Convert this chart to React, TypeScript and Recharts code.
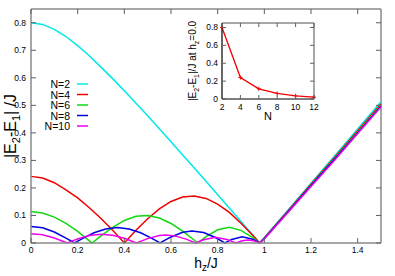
import React from 'react';
import { LineChart, Line, XAxis, YAxis, ReferenceLine, Legend } from 'recharts';

// main panel: gap vs h_z/J for each chain length
const hN2 = [0, 0.05, 0.1, 0.15, 0.2, 0.25, 0.3, 0.35, 0.4, 0.45, 0.5, 0.55, 0.6, 0.65, 0.7, 0.75, 0.8, 0.85, 0.9, 0.95, 0.98, 1.0, 1.1, 1.2, 1.3, 1.4, 1.5];
const gapN2 = [0.8, 0.794, 0.776, 0.75, 0.717, 0.68, 0.639, 0.597, 0.553, 0.508, 0.462, 0.415, 0.368, 0.32, 0.272, 0.224, 0.175, 0.127, 0.078, 0.029, 0, 0.02, 0.118, 0.217, 0.315, 0.414, 0.513];

const hN4 = [0, 0.05, 0.1, 0.15, 0.2, 0.25, 0.3, 0.35, 0.4, 0.45, 0.5, 0.55, 0.6, 0.65, 0.7, 0.75, 0.8, 0.85, 0.9, 0.95, 0.98, 1.0, 1.1, 1.2, 1.3, 1.4, 1.5];
const gapN4 = [0.242, 0.236, 0.219, 0.193, 0.164, 0.128, 0.089, 0.046, 0, 0.046, 0.088, 0.124, 0.151, 0.167, 0.171, 0.162, 0.141, 0.111, 0.072, 0.028, 0, 0.018, 0.115, 0.213, 0.31, 0.408, 0.505];

const hN6 = [0, 0.05, 0.1, 0.15, 0.2, 0.25, 0.262, 0.3, 0.35, 0.4, 0.45, 0.5, 0.55, 0.6, 0.65, 0.7, 0.714, 0.75, 0.8, 0.85, 0.9, 0.95, 0.98, 1.0, 1.1, 1.2, 1.3, 1.4, 1.5];
const gapN6 = [0.114, 0.109, 0.094, 0.071, 0.042, 0.008, 0, 0.026, 0.057, 0.082, 0.097, 0.1, 0.091, 0.071, 0.043, 0.01, 0, 0.023, 0.048, 0.057, 0.046, 0.02, 0, 0.017, 0.113, 0.21, 0.306, 0.403, 0.5];

const hN8 = [0, 0.05, 0.1, 0.15, 0.187, 0.22, 0.27, 0.32, 0.37, 0.42, 0.47, 0.52, 0.553, 0.6, 0.65, 0.69, 0.74, 0.79, 0.831, 0.86, 0.905, 0.95, 0.98, 1.0, 1.1, 1.2, 1.3, 1.4, 1.5];
const gapN8 = [0.06, 0.055, 0.04, 0.018, 0, 0.016, 0.037, 0.051, 0.056, 0.051, 0.037, 0.016, 0, 0.022, 0.039, 0.044, 0.038, 0.02, 0, 0.013, 0.023, 0.014, 0, 0.016, 0.112, 0.208, 0.303, 0.4, 0.497];

const hN10 = [0, 0.05, 0.1, 0.155, 0.2, 0.25, 0.3, 0.35, 0.4, 0.452, 0.5, 0.55, 0.58, 0.62, 0.665, 0.705, 0.74, 0.79, 0.84, 0.878, 0.905, 0.93, 0.955, 0.98, 1.0, 1.1, 1.2, 1.3, 1.4, 1.5];
const gapN10 = [0.034, 0.03, 0.018, 0, 0.015, 0.027, 0.032, 0.028, 0.017, 0, 0.016, 0.027, 0.029, 0.025, 0.014, 0, 0.012, 0.021, 0.013, 0, 0.008, 0.011, 0.008, 0, 0.015, 0.11, 0.205, 0.3, 0.398, 0.495];

const seriesNames = ['N=2', 'N=4', 'N=6', 'N=8', 'N=10'];
const seriesColors = ['#00e8e8', '#f00000', '#10d810', '#0000e6', '#f000f0'];

const xTicks = [0, 0.2, 0.4, 0.6, 0.8, 1, 1.2, 1.4];
const yTicks = [0, 0.1, 0.2, 0.3, 0.4, 0.5, 0.6, 0.7, 0.8];

// inset: gap at h_z = 0 vs N
const insetN = [2, 4, 6, 8, 10, 12];
const insetGap = [0.8, 0.24, 0.114, 0.062, 0.035, 0.02];
const insetYTicks = [0, 0.2, 0.4, 0.6, 0.8];

const toRows = (hs: number[], gs: number[]) => hs.map((h, i) => ({ h, gap: gs[i] }));
const mainSeries = [
  toRows(hN2, gapN2),
  toRows(hN4, gapN4),
  toRows(hN6, gapN6),
  toRows(hN8, gapN8),
  toRows(hN10, gapN10),
];
const insetData = insetN.map((n, i) => ({ n, gap: insetGap[i] }));

const FONT = '"Liberation Sans", Arial, Helvetica, sans-serif';
const FRAME = '#8a8a8a';
const TICK = '#606060';

// main plot box (px)
const W = 395;
const H = 276;
const PL = 31;
const PR = 381;
const PT = 9;
const PB = 243;

const MainXTick = ({ x, payload }: any) => (
  <g>
    <line x1={x} x2={x} y1={PB} y2={PB - 5} stroke={TICK} />
    <line x1={x} x2={x} y1={PT} y2={PT + 5} stroke={TICK} />
    <text x={x} y={PB + 10} textAnchor="middle" fontSize={8.5} fontFamily={FONT} fill="#000">{payload.value}</text>
  </g>
);

const MainYTick = ({ y, payload }: any) => (
  <g>
    <line x1={PL} x2={PL + 5} y1={y} y2={y} stroke={TICK} />
    <line x1={PR} x2={PR - 5} y1={y} y2={y} stroke={TICK} />
    <text x={PL - 5} y={y} dy={3} textAnchor="end" fontSize={8.5} fontFamily={FONT} fill="#000">{payload.value}</text>
  </g>
);

const MainXTitle = () => (
  <text x={(PL + PR) / 2} y={268} textAnchor="middle" fontSize={14} fontFamily={FONT} fill="#000">
    h<tspan fontSize={10} dy={3}>z</tspan><tspan dy={-3}>/J</tspan>
  </text>
);

const MainYTitle = () => (
  <text transform={`translate(16,${(PT + PB) / 2}) rotate(-90)`} textAnchor="middle" fontSize={16} fontFamily={FONT} fill="#000">
    |E<tspan fontSize={11} dy={4}>2</tspan><tspan dy={-4}>-E</tspan><tspan fontSize={11} dy={4}>1</tspan><tspan dy={-4}>| /J</tspan>
  </text>
);

const LegendBox = () => (
  <svg width={80} height={56}>
    {seriesNames.map((name, i) => (
      <g key={name}>
        <text x={55} y={7 + i * 10.5} dy={4} textAnchor="end" fontSize={10.5} fontFamily={FONT} fill="#000">{name}</text>
        <line x1={62} x2={73} y1={7 + i * 10.5} y2={7 + i * 10.5} stroke={seriesColors[i]} strokeWidth={1.5} />
      </g>
    ))}
  </svg>
);

// inset box (local px)
const IW = 140;
const IH = 118;
const IL = 42;
const IR = 134;
const IT = 13;
const IB = 89;

const InsetXTick = ({ x, payload }: any) => (
  <g>
    <line x1={x} x2={x} y1={IB} y2={IB - 4} stroke={TICK} />
    <line x1={x} x2={x} y1={IT} y2={IT + 4} stroke={TICK} />
    <text x={x} y={IB + 11} textAnchor="middle" fontSize={8.5} fontFamily={FONT} fill="#000">{payload.value}</text>
  </g>
);

const InsetYTick = ({ y, payload }: any) => (
  <g>
    <line x1={IL} x2={IL + 4} y1={y} y2={y} stroke={TICK} />
    <line x1={IR} x2={IR - 4} y1={y} y2={y} stroke={TICK} />
    <text x={IL - 4} y={y} dy={3} textAnchor="end" fontSize={8.5} fontFamily={FONT} fill="#000">{payload.value}</text>
  </g>
);

const InsetXTitle = () => (
  <text x={(IL + IR) / 2} y={110} textAnchor="middle" fontSize={11} fontFamily={FONT} fill="#000">N</text>
);

const InsetYTitle = () => (
  <text transform={`translate(16,${(IT + IB) / 2}) rotate(-90)`} textAnchor="middle" fontSize={10} fontFamily={FONT} fill="#000">
    |E<tspan fontSize={7} dy={3}>2</tspan><tspan dy={-3}>-E</tspan><tspan fontSize={7} dy={3}>1</tspan><tspan dy={-3}>|/J at h</tspan><tspan fontSize={7} dy={3}>z</tspan><tspan dy={-3}>=0.0</tspan>
  </text>
);

const PlusDot = ({ cx, cy }: any) => (
  <path d={`M${cx - 2},${cy}H${cx + 2}M${cx},${cy - 2}V${cy + 2}`} stroke="#f00000" strokeWidth={1} />
);

export default function App() {
  return (
    <div style={{ position: 'absolute', left: 0, top: 0, width: W, height: H, background: '#fff' }}>
      <LineChart width={W} height={H} margin={{ top: PT, right: W - PR, left: 0, bottom: 0 }}>
        <XAxis
          dataKey="h"
          type="number"
          domain={[0, 1.5]}
          ticks={xTicks}
          interval={0}
          height={H - PB}
          tickLine={false}
          axisLine={{ stroke: FRAME, strokeWidth: 1.5 }}
          tick={<MainXTick />}
          label={<MainXTitle />}
        />
        <YAxis
          type="number"
          domain={[0, 0.85]}
          ticks={yTicks}
          interval={0}
          width={PL}
          tickLine={false}
          axisLine={{ stroke: FRAME, strokeWidth: 1.5 }}
          tick={<MainYTick />}
          label={<MainYTitle />}
        />
        <ReferenceLine x={1.5} stroke={FRAME} strokeWidth={1.5} />
        <ReferenceLine y={0.85} stroke={FRAME} strokeWidth={1.5} />
        {mainSeries.map((rows, i) => (
          <Line
            key={seriesNames[i]}
            data={rows}
            dataKey="gap"
            name={seriesNames[i]}
            type="linear"
            stroke={seriesColors[i]}
            strokeWidth={1.5}
            dot={false}
            isAnimationActive={false}
          />
        ))}
        <Legend
          layout="vertical"
          align="center"
          verticalAlign="middle"
          content={<LegendBox />}
          wrapperStyle={{ left: 15, top: 77, width: 80, height: 56 }}
        />
      </LineChart>

      <div style={{ position: 'absolute', left: 180, top: 10, width: IW, height: IH }}>
        <LineChart width={IW} height={IH} data={insetData} margin={{ top: IT, right: IW - IR, left: 0, bottom: 0 }}>
          <XAxis
            dataKey="n"
            type="number"
            domain={[2, 12]}
            ticks={insetN}
            interval={0}
            height={IH - IB}
            tickLine={false}
            axisLine={{ stroke: '#000', strokeWidth: 1.2 }}
            tick={<InsetXTick />}
            label={<InsetXTitle />}
          />
          <YAxis
            type="number"
            domain={[0, 0.85]}
            ticks={insetYTicks}
            interval={0}
            width={IL}
            tickLine={false}
            axisLine={{ stroke: '#000', strokeWidth: 1.2 }}
            tick={<InsetYTick />}
            label={<InsetYTitle />}
          />
          <ReferenceLine x={12} stroke={FRAME} strokeWidth={1.5} />
          <ReferenceLine y={0.85} stroke={FRAME} strokeWidth={1.5} />
          <Line
            dataKey="gap"
            type="linear"
            stroke="#f00000"
            strokeWidth={1.3}
            dot={<PlusDot />}
            isAnimationActive={false}
          />
        </LineChart>
      </div>
    </div>
  );
}
